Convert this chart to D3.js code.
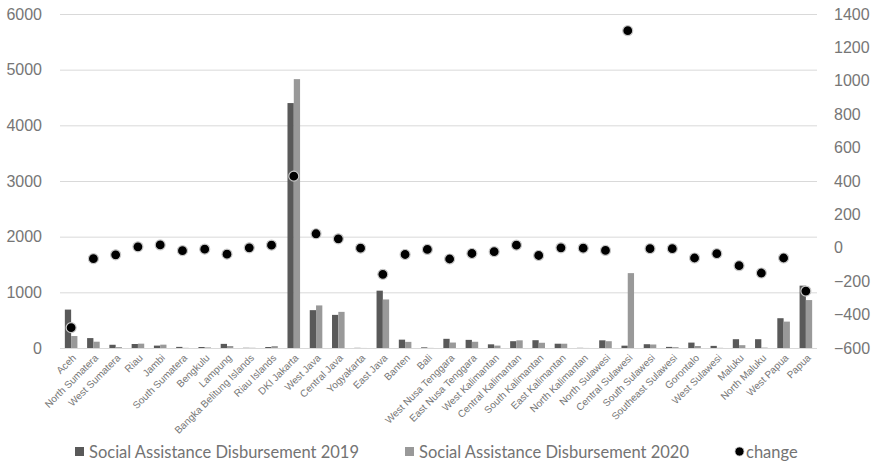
<!DOCTYPE html>
<html>
<head>
<meta charset="utf-8">
<script src="https://cdn.jsdelivr.net/npm/d3@7/dist/d3.min.js"></script>
<style>
	body { margin: 0; background: #fff; }
	svg { display: block; font-family: Lato, "Open Sans", sans-serif; }
	.tick text { fill: #767676; }
</style>
</head>
<body>
<svg width="873" height="463"></svg>
<script>
// provinces, in chart order
var provinces = ["Aceh", "North Sumatera", "West Sumatera", "Riau", "Jambi", "South Sumatera",
	"Bengkulu", "Lampung", "Bangka Belitung Islands", "Riau Islands", "DKI Jakarta", "West Java",
	"Central Java", "Yogyakarta", "East Java", "Banten", "Bali", "West Nusa Tenggara",
	"East Nusa Tenggara", "West Kalimantan", "Central Kalimantan", "South Kalimantan",
	"East Kalimantan", "North Kalimantan", "North Sulawesi", "Central Sulawesi", "South Sulawesi",
	"Southeast Sulawesi", "Gorontalo", "West Sulawesi", "Maluku", "North Maluku", "West Papua", "Papua"];

var disb2019 = [690, 178, 58, 72, 43, 20, 18, 74, 4, 18, 4400, 680, 595, 3, 1030, 150, 12, 165,
	146, 66, 122, 140, 77, 3, 138, 42, 68, 20, 97, 38, 158, 158, 535, 1120];
var disb2020 = [215, 113, 16, 78, 60, 3, 10, 36, 4, 34, 4830, 765, 649, 1, 872, 110, 2, 98,
	112, 43, 138, 94, 77, 1, 122, 1345, 63, 15, 36, 3, 51, 7, 474, 861];
var change = [-478, -65, -42, 6, 17, -17, -8, -38, 0, 16, 429, 84, 54, -2, -159, -40, -10, -67,
	-34, -23, 16, -46, 0, -2, -16, 1300, -5, -5, -61, -35, -107, -151, -61, -259];

var leftTicks = [0, 1000, 2000, 3000, 4000, 5000, 6000];
var rightTicks = [-600, -400, -200, 0, 200, 400, 600, 800, 1000, 1200, 1400];

var seriesNames = ["Social Assistance Disbursement 2019", "Social Assistance Disbursement 2020", "change"];
var barColors = ["#595959", "#999999"];

var svg = d3.select("svg"),
	plotLeft = 60, plotRight = 817, plotTop = 14, plotBottom = 348;

var x = d3.scaleBand().domain(provinces).range([plotLeft, plotRight]);
var xs = d3.scaleBand().domain([0, 1]).range([0, x.bandwidth()]).paddingInner(0).paddingOuter(0.77);
var yL = d3.scaleLinear().domain([0, 6000]).range([plotBottom, plotTop]);
var yR = d3.scaleLinear().domain([-600, 1400]).range([plotBottom, plotTop]);

// gridlines
var grid = svg.append("g")
	.attr("transform", "translate(" + plotLeft + ",0)")
	.call(d3.axisRight(yL).tickValues(leftTicks).tickSize(plotRight - plotLeft).tickFormat(""));
grid.select(".domain").remove();
grid.selectAll("line").attr("stroke", "#d9d9d9").attr("stroke-width", 1);

// left axis labels
var ya = svg.append("g")
	.attr("transform", "translate(42,0)")
	.call(d3.axisLeft(yL).tickValues(leftTicks).tickSize(0).tickPadding(0).tickFormat(d3.format("d")));
ya.select(".domain").remove();
ya.selectAll("text").style("font-size", "16px");

// right axis labels
var yb = svg.append("g")
	.attr("transform", "translate(834,0)")
	.call(d3.axisRight(yR).tickValues(rightTicks).tickSize(0).tickPadding(0).tickFormat(d3.format("d")));
yb.select(".domain").remove();
yb.selectAll("text").style("font-size", "16px");

// bars
var rows = provinces.map(function (p, i) {
	return { name: p, vals: [disb2019[i], disb2020[i]], change: change[i] };
});

var groups = svg.append("g").selectAll("g")
	.data(rows)
	.enter().append("g")
	.attr("transform", function (d) { return "translate(" + x(d.name) + ",0)"; });

groups.selectAll("rect")
	.data(function (d) { return d.vals; })
	.enter().append("rect")
	.attr("x", function (d, i) { return xs(i); })
	.attr("width", xs.bandwidth())
	.attr("y", function (d) { return yL(d); })
	.attr("height", function (d) { return plotBottom - yL(d); })
	.attr("fill", function (d, i) { return barColors[i]; });

// category labels
var xa = svg.append("g")
	.attr("transform", "translate(0," + plotBottom + ")")
	.call(d3.axisBottom(x).tickSize(0));
xa.select(".domain").remove();
xa.selectAll("text")
	.attr("x", 0).attr("y", 0).attr("dy", "0.35em")
	.attr("text-anchor", "end")
	.attr("transform", "translate(3,8) rotate(-45)")
	.style("font-size", "10px");

// change dots
svg.append("g").selectAll("circle")
	.data(rows)
	.enter().append("circle")
	.attr("cx", function (d) { return x(d.name) + x.bandwidth() / 2; })
	.attr("cy", function (d) { return yR(d.change); })
	.attr("r", 5)
	.attr("fill", "#000")
	.attr("stroke", "#c8c8c8")
	.attr("stroke-width", 1.2);

// legend
var legX = [75, 405, 735];
var leg = svg.append("g").selectAll("g")
	.data(seriesNames)
	.enter().append("g")
	.attr("transform", function (d, i) { return "translate(" + legX[i] + ",452)"; });

leg.filter(function (d, i) { return i < 2; })
	.append("rect")
	.attr("x", 0).attr("y", -5).attr("width", 9).attr("height", 9)
	.attr("fill", function (d, i) { return barColors[i]; });
leg.filter(function (d, i) { return i == 2; })
	.append("circle")
	.attr("cx", 4.5).attr("cy", -0.5).attr("r", 4.5)
	.attr("fill", "#000")
	.attr("stroke", "#c8c8c8")
	.attr("stroke-width", 0.8);
leg.append("text")
	.attr("x", function (d, i) { return i == 2 ? 11 : 14; })
	.attr("y", 0)
	.attr("dy", "0.35em")
	.attr("fill", "#737373")
	.style("font-size", "16.5px")
	.text(function (d) { return d; });
</script>
</body>
</html>
